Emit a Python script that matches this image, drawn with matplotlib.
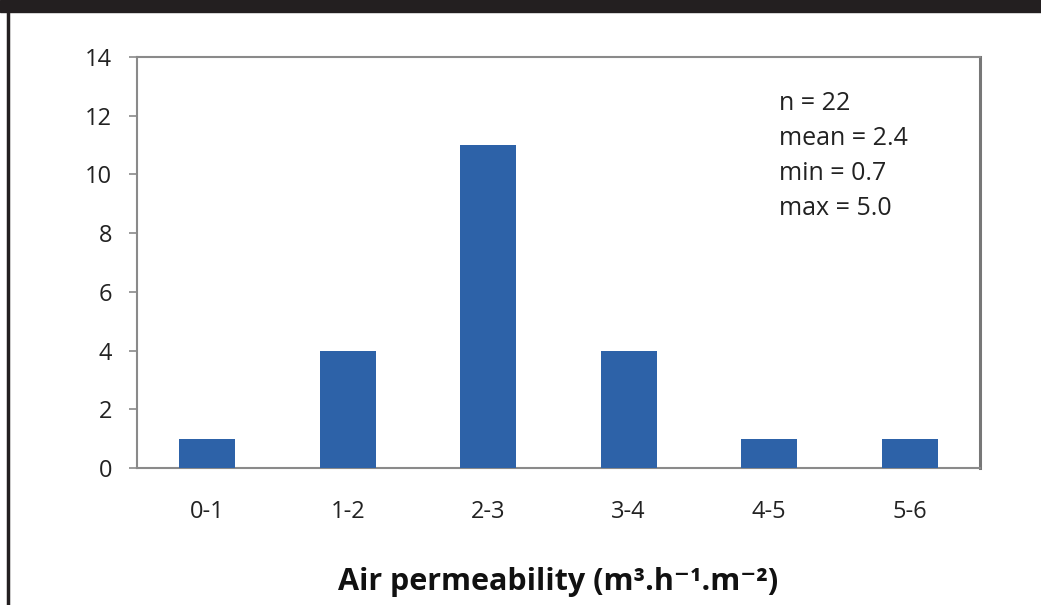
import matplotlib.pyplot as plt
from matplotlib.patches import Rectangle
from matplotlib.lines import Line2D

# Data
bins = ["0-1", "1-2", "2-3", "3-4", "4-5", "5-6"]
counts = [1, 4, 11, 4, 1, 1]
stats_lines = ["n = 22", "mean = 2.4", "min = 0.7", "max = 5.0"]

plt.rcParams['font.family'] = ['Open Sans', 'DejaVu Sans']

fig = plt.figure(figsize=(10.41, 6.05), dpi=100)
ax = fig.add_axes([0.1316, 0.2264, 0.8098, 0.6794])

x = range(len(bins))
ax.bar(x, counts, width=0.4, color="#2D62A8", zorder=3)

ax.set_xlim(-0.5, len(bins) - 0.5)
ax.set_ylim(0, 14)
ax.set_yticks(range(0, 15, 2))
ax.set_xticks(list(x))
ax.set_xticklabels(bins)

for s in ax.spines.values():
    s.set_color("#8a8a8a")
    s.set_linewidth(1.5)
ax.spines['right'].set_linewidth(2.2)
ax.spines['right'].set_color("#777777")

ax.tick_params(axis='y', length=6, width=1.2, color="#8a8a8a", labelsize=17,
               labelcolor="#222222", pad=12)
ax.tick_params(axis='x', length=0, labelsize=17, labelcolor="#222222", pad=23)

ax.set_xlabel("Air permeability (m³.h⁻¹.m⁻²)",
              fontsize=22, fontweight='bold', labelpad=31, color="#111111")

# stats box text
for i, line in enumerate(stats_lines):
    ax.text(0.762, 0.871 - i * 0.0852, line, transform=ax.transAxes,
            fontsize=18, color="#222222", va='baseline', ha='left')

# dark band and left border of the page
fig.patches.append(Rectangle((0, 1 - 12 / 605), 1, 12 / 605, transform=fig.transFigure,
                             color="#231F20", zorder=10))
fig.lines.append(Line2D([8 / 1041, 8 / 1041], [0, 1], transform=fig.transFigure,
                        color="#231F20", linewidth=2.5, zorder=10))

fig.savefig("out.png", dpi=100)
